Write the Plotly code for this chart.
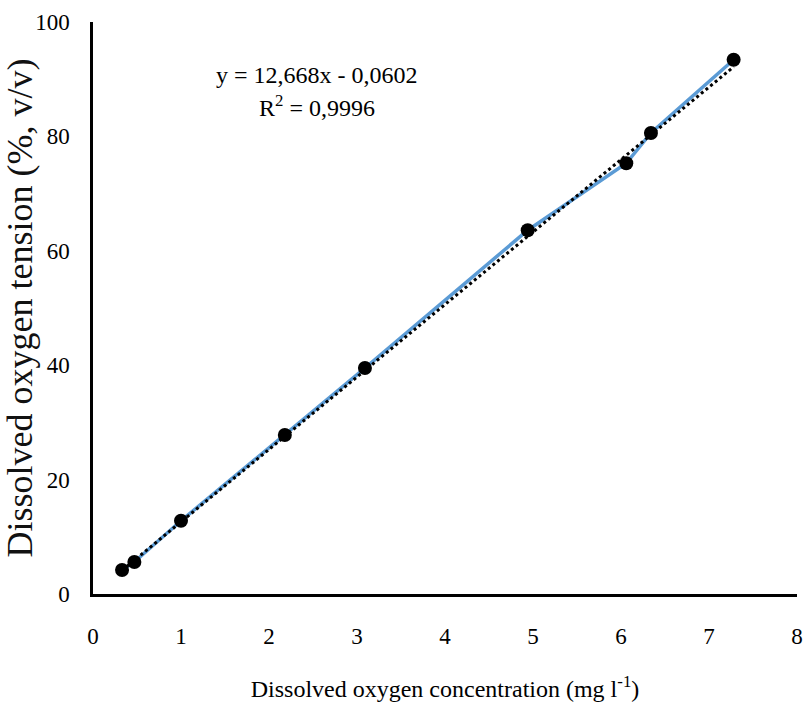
import plotly.graph_objects as go

# Data
conc = [0.33, 0.47, 1.00, 2.18, 3.09, 4.94, 6.06, 6.34, 7.28]
tension = [4.2, 5.6, 12.8, 27.8, 39.5, 63.6, 75.3, 80.6, 93.4]

# Linear trendline coefficients shown on chart
slope = 12.668
intercept = -0.0602
trend_x = [min(conc), max(conc)]
trend_y = [slope * v + intercept for v in trend_x]

x_ticks = [0, 1, 2, 3, 4, 5, 6, 7, 8]
y_ticks = [0, 20, 40, 60, 80, 100]

serif = "Liberation Serif, Times New Roman, serif"

fig = go.Figure()
fig.add_trace(go.Scatter(
    x=conc, y=tension, mode="lines+markers",
    line=dict(color="#5B9BD5", width=3.5),
    marker=dict(color="black", size=14),
    showlegend=False,
))
fig.add_trace(go.Scatter(
    x=trend_x, y=trend_y, mode="lines",
    line=dict(color="black", width=3, dash="dot"),
    showlegend=False,
))

fig.add_annotation(x=0.318, y=1.0, xref="paper", yref="paper",
                   text="y = 12,668x - 0,0602", showarrow=False,
                   font=dict(family=serif, size=24, color="black"),
                   xanchor="center", yanchor="middle", yshift=-53)
fig.add_annotation(x=0.318, y=1.0, xref="paper", yref="paper",
                   text="R<sup>2</sup> = 0,9996", showarrow=False,
                   font=dict(family=serif, size=24, color="black"),
                   xanchor="center", yanchor="middle", yshift=-84)

fig.update_layout(
    width=807, height=713,
    margin=dict(l=93, r=10, t=22, b=119),
    paper_bgcolor="white", plot_bgcolor="white",
    font=dict(family=serif, color="black"),
    xaxis=dict(
        range=[0, 8], tickvals=x_ticks, showgrid=False, zeroline=False,
        showline=True, linecolor="black", linewidth=2.5, ticks="",
        automargin=False, ticklabelstandoff=20,
        tickfont=dict(family=serif, size=23, color="black"),
        title=dict(text="Dissolved oxygen concentration (mg l<sup>-1</sup>)",
                   font=dict(family=serif, size=24, color="black"), standoff=32),
    ),
    yaxis=dict(
        range=[0, 100], tickvals=y_ticks, showgrid=False, zeroline=False,
        showline=True, linecolor="black", linewidth=2.5, ticks="",
        automargin=False, ticklabelstandoff=16,
        tickfont=dict(family=serif, size=23, color="black"),
        title=dict(text="Dissolved oxygen tension (%, v/v)",
                   font=dict(family=serif, size=36, color="#111111"), standoff=6),
    ),
)

fig.write_html("out.html")
